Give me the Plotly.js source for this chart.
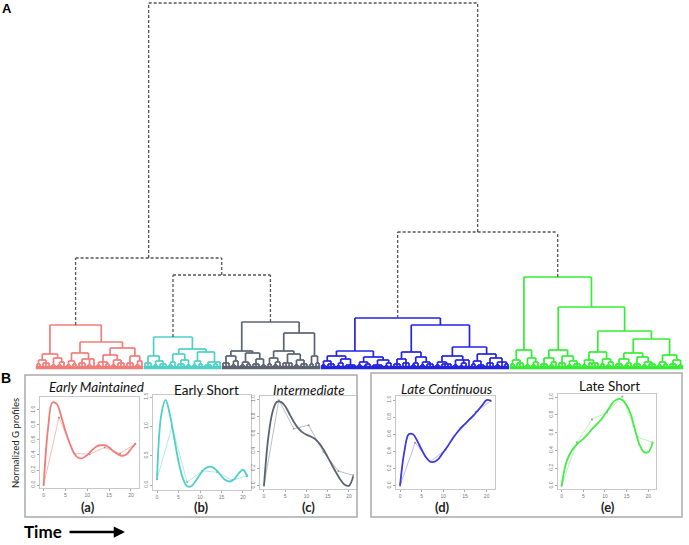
<!DOCTYPE html>
<html><head><meta charset="utf-8">
<script src="https://cdn.plot.ly/plotly-3.0.1.min.js"></script>
<style>body{margin:0;background:#fff}#chart{width:689px;height:545px}</style>
</head><body><div id="chart"></div>
<script>
// ---------- Dendrogram data: [mergeHeight, child, child, ...]; 0 = leaf ----------
const clusterNames = ['red','cyan','gray','blue','green'];
const redTree = [43,
  [14,[8,[4,0,0],[5,0,0,0]],[10,[3,0,0],[6,[3,0,0],0]]],
  [26,
    [15,[7,[3,0,0],[4,0,0]],[9,[5,0,0,0],[3,0,0],0]],
    [20,[13,[6,[3,0,0],0,[4,0,0]],[8,[3,0,0],[5,0,0,0]]],[12,[5,0,0,0],[7,[3,0,0],0]]]]];
const cyanTree = [31,
  [12,[5,0,0,0],[7,[3,0,0],[4,0,0,0]]],
  [19,[14,[6,[3,0,0],0],[8,[4,0,0,0],[3,0,0]]],[16,[7,[3,0,0],[4,0,0]],[6,[3,0,0,0],[4,0,0],0]]]];
const grayTree = [46,
  [17,[12,[5,0,0,0],[7,[3,0,0],0]],[15,[6,[3,0,0],[4,0,0]],[9,[4,0,0,0],[3,0,0]]]],
  [35,[17,[10,[4,0,0],[6,[3,0,0],0]],[14,[5,0,0,0,0],[8,[3,0,0],[4,0,0,0]]]],[12,[4,0,0],[5,0,0]]]];
const blueTree = [50,
  [17,[12,[7,[3,0,0],[4,0,0,0]],[9,[5,[2,0,0],0],[3,0,0,0,0]]],
      [11,[6,[3,0,0],[4,[2,0,0],0]],[8,[3,0,0,0,0],[5,[2,0,0],0]]]],
  [43,
    [16,[9,[4,0,0,0],[5,0,0,0]],[11,[5,[3,0,0],0],[6,[3,0,0],[4,0,0,0]]]],
    [21,
      [12,[6,[3,0,0],[4,0,0,0,0]],[8,[3,0,0],[5,[2,0,0],0],0]],
      [14,[7,[4,0,0],[3,0,0,0]],[10,[5,0,0,0],[6,[3,0,0],0,[4,0,0]]]]]]];
const greenTree = [91,
  [18,[8,[4,0,0],[5,0,0,0]],[10,[3,0,0],[6,[3,0,0],0]]],
  [61,
    [18,[10,[4,0,0,0],[6,[3,0,0],0]],[12,[5,0,0,0],[7,[3,0,0],[4,0,0,0]]]],
    [37,
      [16,[8,[3,0,0],[5,0,0,0,0]],[9,[4,0,0],[6,[3,0,0],0]]],
      [29,
        [15,[9,[4,0,0,0],[5,[3,0,0],0]],[11,[4,0,0,0],[6,[3,0,0],[4,0,0,0]]]],
        [13,[6,[3,0,0],[4,0,0]],[8,[4,0,0,0],[3,0,0]]]]]]];
const upperTree = [365, [110, 'red', [93, 'cyan', 'gray']], [136, 'blue', 'green']];
const clusterColors = ['#f27c78','#4fd0c6','#5c6370','#2323e0','#33ee33'];

// ---------- Profile data ----------
const smoothTime = [0,1,2,3,4,5,6,7,8,9,10,11,12,13,14,15,16,17,18,19,20,21];
const pointTime = [0,3.5,7,10.5,14,17.5,21];
const smoothA = [0,0.75,1.1,1.08,0.92,0.72,0.55,0.42,0.36,0.36,0.4,0.46,0.51,0.53,0.53,0.5,0.45,0.41,0.39,0.41,0.48,0.55];
const pointsA = [0,0.9,0.42,0.41,0.5,0.42,0.55];
const smoothB = [0.1,1.2,1.45,1.2,0.8,0.4,0.12,-0.02,-0.02,0.07,0.18,0.27,0.31,0.3,0.24,0.15,0.08,0.06,0.1,0.2,0.26,0.14];
const pointsB = [0.1,1.0,0.05,0.24,0.22,0.08,0.16];
const smoothC = [0,0.55,0.85,0.97,0.97,0.92,0.83,0.74,0.67,0.62,0.59,0.57,0.54,0.49,0.42,0.33,0.24,0.15,0.07,0.01,0.0,0.11];
const pointsC = [0,0.99,0.66,0.7,0.39,0.17,0.12];
const smoothD = [0,0.4,0.6,0.6,0.52,0.42,0.33,0.28,0.28,0.32,0.39,0.46,0.54,0.61,0.67,0.72,0.77,0.82,0.88,0.94,1.0,0.99];
const pointsD = [0,0.5,0.28,0.42,0.68,0.86,0.99];
const smoothE = [0,0.25,0.37,0.44,0.49,0.53,0.58,0.64,0.69,0.74,0.81,0.88,0.95,0.98,0.97,0.91,0.8,0.62,0.46,0.38,0.38,0.49];
const pointsE = [0,0.49,0.75,0.83,1.01,0.55,0.49];
const panelTitles = ['Early Maintained','Early Short','Intermediate','Late Continuous','Late Short'];
const panelLabels = ['(a)','(b)','(c)','(d)','(e)'];
const xTicks = [0,5,10,15,20];
const yTicksA = [0,0.2,0.4,0.6,0.8,1.0];
const yTicksB = [0,0.5,1.0,1.5];

// ---------- helpers ----------
const W = 689, H = 545;
const px = x => x / W;
const py = y => 1 - y / H;

const traces = [];
const state = {i: 0};
function layoutTree(node, segs, lookup) {
  if (node === 0) { const x = state.i++; return {x: x, h: 0}; }
  if (typeof node === 'string') return lookup[node];
  const h = node[0];
  const kids = node.slice(1).map(c => layoutTree(c, segs, lookup));
  const xs = kids.map(k => k.x);
  kids.forEach(k => { segs.x.push(k.x, k.x, null); segs.y.push(k.h, h, null); });
  segs.x.push(Math.min(...xs), Math.max(...xs), null); segs.y.push(h, h, null);
  return {x: xs.reduce((a, b) => a + b, 0) / xs.length, h: h};
}
const trees = [redTree, cyanTree, grayTree, blueTree, greenTree];
const tops = {};
trees.forEach((t, k) => {
  const segs = {x: [], y: []};
  const start = state.i;
  tops[clusterNames[k]] = layoutTree(t, segs, {});
  const end = state.i - 1;
  traces.push({x: segs.x, y: segs.y, mode: 'lines', type: 'scatter', hoverinfo: 'skip',
    line: {color: clusterColors[k], width: 1.7}, xaxis: 'x', yaxis: 'y'});
  traces.push({x: [start - 0.4, end + 0.4], y: [0.5, 0.5], mode: 'lines', type: 'scatter', hoverinfo: 'skip',
    line: {color: clusterColors[k], width: 3.5}, xaxis: 'x', yaxis: 'y'});
});
const upSegs = {x: [], y: []};
layoutTree(upperTree, upSegs, tops);
traces.push({x: upSegs.x, y: upSegs.y, mode: 'lines', type: 'scatter', hoverinfo: 'skip',
  line: {color: '#555', width: 1.3, dash: '3px,2px'}, xaxis: 'x', yaxis: 'y'});

// ---------- profile panels ----------
const panels = [
  {s: smoothA, p: pointsA, c: '#f27c78', tc: '#f7b5b2', xd: [40, 139], yd: [397, 488], yr: [-0.04, 1.173], yt: yTicksA},
  {s: smoothB, p: pointsB, c: '#4fd0c6', tc: '#a9e9e3', xd: [153.4, 250.9], yd: [395, 490], yr: [-0.085, 1.534], yt: yTicksB},
  {s: smoothC, p: pointsC, c: '#5c6370', tc: '#b3b6bc', xd: [260.4, 356.8], yd: [396, 489], yr: [-0.038, 1.038], yt: yTicksA},
  {s: smoothD, p: pointsD, c: '#3a3ae0', tc: '#b4b4f2', xd: [396.4, 494.6], yd: [396, 489], yr: [-0.0385, 1.047], yt: yTicksA},
  {s: smoothE, p: pointsE, c: '#44ee44', tc: '#aef5ae', xd: [558, 656.3], yd: [394, 489], yr: [-0.037, 1.037], yt: yTicksA}
];
const layout = {
  width: W, height: H, margin: {l: 0, r: 0, t: 0, b: 0},
  paper_bgcolor: '#fff', plot_bgcolor: 'rgba(0,0,0,0)', showlegend: false,
  xaxis: {domain: [0, 1], range: [-37 / 3, (W - 37) / 3], visible: false, fixedrange: true},
  yaxis: {domain: [py(372), 1], range: [-4, 368], visible: false, fixedrange: true},
  shapes: [], annotations: []
};
panels.forEach((P, k) => {
  const n = k + 2;
  traces.push({x: pointTime, y: P.p, mode: 'lines+markers', type: 'scatter', hoverinfo: 'skip',
    line: {color: P.tc, width: 0.9}, marker: {size: 2, color: '#999'}, xaxis: 'x' + n, yaxis: 'y' + n});
  traces.push({x: smoothTime, y: P.s, mode: 'lines', type: 'scatter', hoverinfo: 'skip',
    line: {color: P.c, width: 1.8, shape: 'spline', smoothing: 1}, xaxis: 'x' + n, yaxis: 'y' + n});
  layout['xaxis' + n] = {domain: [px(P.xd[0]), px(P.xd[1])], range: [-0.84, 21.84], anchor: 'y' + n,
    tickvals: xTicks, ticks: 'outside', ticklen: 2, tickcolor: '#aaa', tickfont: {size: 5, color: '#777', family: 'Arial'},
    showline: true, mirror: true, linecolor: '#c8c8c8', linewidth: 1, showgrid: false, zeroline: false, fixedrange: true};
  layout['yaxis' + n] = {domain: [py(P.yd[1]), py(P.yd[0])], range: P.yr, anchor: 'x' + n,
    tickvals: P.yt, tickformat: '.1f', ticks: 'outside', ticklen: 2, tickcolor: '#aaa', tickangle: -90,
    tickfont: {size: 5, color: '#777', family: 'Arial'},
    showline: true, mirror: true, linecolor: '#c8c8c8', linewidth: 1, showgrid: false, zeroline: false, fixedrange: true};
});

// boxes
layout.shapes.push({type: 'rect', xref: 'paper', yref: 'paper', x0: px(25), x1: px(357), y0: py(517), y1: py(375),
  line: {color: '#aaa', width: 1.5}});
layout.shapes.push({type: 'rect', xref: 'paper', yref: 'paper', x0: px(371), x1: px(682), y0: py(517), y1: py(373),
  line: {color: '#aaa', width: 1.5}});

// text
const titleX = [96, 206, 309, 447, 609];
const titleY = [387, 390, 390, 389, 386];
const titleItalic = [true, false, true, true, false];
panelTitles.forEach((t, k) => {
  layout.annotations.push({xref: 'paper', yref: 'paper', x: px(titleX[k]), y: py(titleY[k]), text: titleItalic[k] ? '<i>' + t + '</i>' : t,
    showarrow: false, xanchor: 'center', yanchor: 'middle', font: {family: 'Lato, Open Sans, sans-serif', size: 13.5, color: '#111'}});
});
const labelX = [88, 202, 308, 442, 608];
panelLabels.forEach((t, k) => {
  layout.annotations.push({xref: 'paper', yref: 'paper', x: px(labelX[k]), y: py(507), text: '<b>' + t + '</b>',
    showarrow: false, xanchor: 'center', yanchor: 'middle', font: {family: 'Lato, Open Sans, sans-serif', size: 13, color: '#222'}});
});
layout.annotations.push({xref: 'paper', yref: 'paper', x: px(15), y: py(443), text: 'Normalized G profiles', textangle: -90,
  showarrow: false, xanchor: 'center', yanchor: 'middle', font: {family: 'Lato, Open Sans, sans-serif', size: 9.5, color: '#222'}});
layout.annotations.push({xref: 'paper', yref: 'paper', x: px(7), y: py(9), text: '<b>A</b>',
  showarrow: false, xanchor: 'center', yanchor: 'middle', font: {family: 'Liberation Sans, Arial', size: 13, color: '#000'}});
layout.annotations.push({xref: 'paper', yref: 'paper', x: px(6), y: py(378), text: '<b>B</b>',
  showarrow: false, xanchor: 'center', yanchor: 'middle', font: {family: 'Liberation Sans, Arial', size: 14, color: '#000'}});
layout.annotations.push({xref: 'paper', yref: 'paper', x: px(43), y: py(531), text: '<b>Time</b>',
  showarrow: false, xanchor: 'center', yanchor: 'middle', font: {family: 'Lato, Open Sans, sans-serif', size: 17, color: '#000'}});
layout.annotations.push({xref: 'paper', yref: 'paper', x: px(125), y: py(532), ax: -57, ay: 0, text: '',
  showarrow: true, arrowhead: 2, arrowsize: 0.9, arrowwidth: 2.5, arrowcolor: '#000'});

Plotly.newPlot('chart', traces, layout, {staticPlot: true, displayModeBar: false});
</script>
</body></html>
